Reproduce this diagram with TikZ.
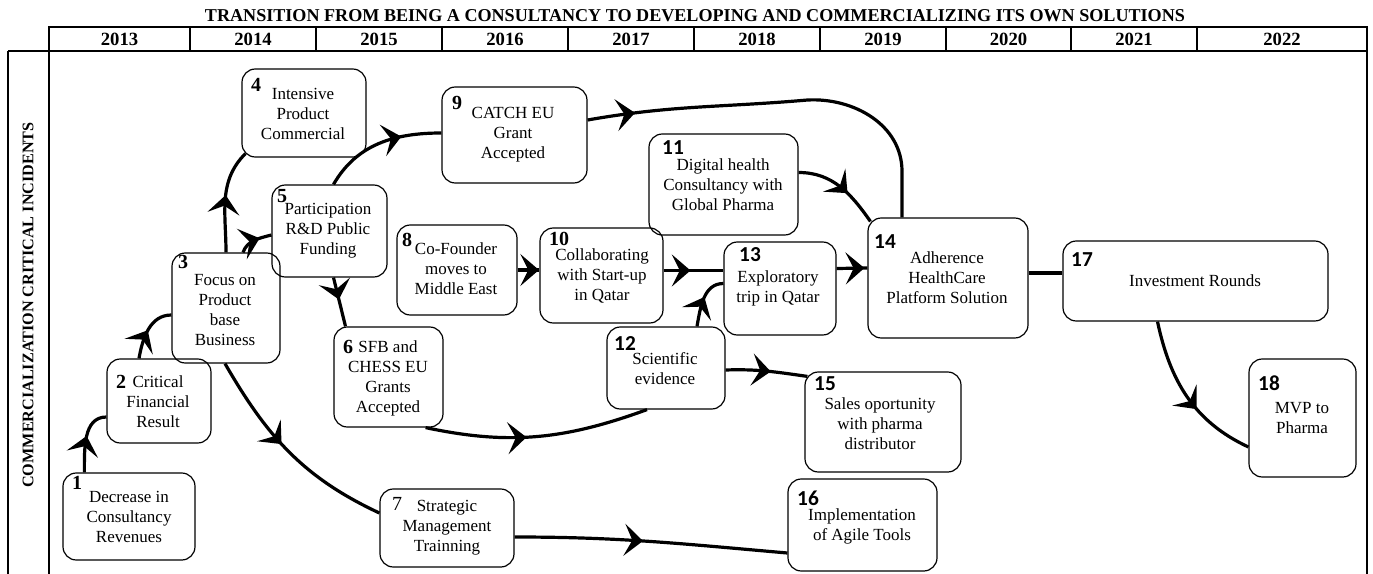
\documentclass[tikz,border=0pt]{standalone}
\usepackage{fontspec}
\setmainfont{Liberation Serif}
\newfontfamily\numsans{Carlito}
\usetikzlibrary{arrows.meta,decorations.markings,calc}
\newcommand\mkbox[5]{%
  \pgfmathsetmacro\mybw{(#4-#2)*0.75}%
  \pgfmathsetmacro\mybh{(#5-#3)*0.75}%
  \node[ibox, minimum width=\mybw pt, minimum height=\mybh pt] (#1) at ({(#2+#4)/2},{-(#3+#5)/2}) {};}
\begin{document}
\begin{tikzpicture}[x=0.75pt,y=0.75pt,
  ibox/.style={draw, rounded corners=10pt, line width=0.9pt, inner sep=0pt},
  txt/.style={align=center, font=\fontsize{12.75}{15}\selectfont, inner sep=0pt},
  nums/.style={font=\fontsize{15}{15}\selectfont\bfseries, inner sep=0pt},
  numr/.style={font=\fontsize{15}{15}\selectfont, inner sep=0pt},
  numc/.style={font=\fontsize{16}{16}\selectfont\numsans\bfseries, inner sep=0pt},
  link/.style={line width=2.4pt},
  chev/.style={postaction={decorate,decoration={markings,mark=at position #1 with {\arrow{Stealth[length=14pt,width=24pt,inset=6pt]}}}}},
  grid/.style={line width=0.9pt},
  year/.style={font=\fontsize{14}{14}\selectfont\bfseries, inner sep=0pt}
]
\useasboundingbox (0,0) rectangle (1373,-574);
% table
\draw[grid] (49,-27) rectangle (1367,-51);
\foreach \cx in {190,316,442,568,694,820,946,1071,1197}{\draw[grid] (\cx,-27) -- (\cx,-51);}
\draw[grid] (8,-51) -- (1367,-51);
\draw[grid] (8,-51) -- (8,-574);
\draw[grid] (49,-51) -- (49,-574);
\draw[grid] (1367,-51) -- (1367,-574);
\node[inner sep=0pt] (title) at (695,-16) {\resizebox{735pt}{!}{\bfseries TRANSITION FROM BEING A CONSULTANCY TO DEVELOPING AND COMMERCIALIZING ITS OWN SOLUTIONS}};
\node[rotate=90, inner sep=0pt] (side) at (28,-305) {\resizebox{274pt}{!}{\bfseries COMMERCIALIZATION CRITICAL INCIDENTS}};
\foreach \yr/\cx in {2013/119.5,2014/253,2015/379,2016/505,2017/631,2018/757,2019/883,2020/1008.5,2021/1134,2022/1282}{\node[year] (y\yr) at (\cx,-39) {\yr};}
% boxes
\mkbox{n1}{63}{473}{195}{560}
\mkbox{n2}{107}{359}{211}{443}
\mkbox{n3}{172}{253}{280}{363}
\mkbox{n4}{242}{69}{366}{157}
\mkbox{n5}{272}{185}{387}{277}
\mkbox{n6}{334}{327}{443}{427}
\mkbox{n7}{380}{489}{514}{567}
\mkbox{n8}{397}{225}{517}{315}
\mkbox{n9}{442}{87}{587}{183}
\mkbox{n10}{540}{228}{663}{323}
\mkbox{n11}{649}{134}{798}{235}
\mkbox{n12}{607}{327}{725}{409}
\mkbox{n13}{724}{242}{836}{335}
\mkbox{n14}{868}{218}{1028}{338}
\mkbox{n15}{805}{372}{961}{472}
\mkbox{n16}{788}{479}{937}{571}
\mkbox{n17}{1063}{241}{1328}{321}
\mkbox{n18}{1249}{359}{1356}{477}
% numbers
\node[nums] (k1) at (77,-483) {1};
\node[nums] (k2) at (121,-382) {2};
\node[nums] (k3) at (183,-262) {3};
\node[nums] (k4) at (256,-85) {4};
\node[nums] (k5) at (282,-196) {5};
\node[nums] (k6) at (348,-347) {6};
\node[numr] (k7) at (397,-504) {7};
\node[nums] (k8) at (407,-240) {8};
\node[nums] (k9) at (457,-103) {9};
\node[nums] (k10) at (559,-239) {10};
\node[numc] (k11) at (673,-148) {11};
\node[numc] (k12) at (625,-344) {12};
\node[numc] (k13) at (750,-255) {13};
\node[numc] (k14) at (885,-242) {14};
\node[numc] (k15) at (825,-384) {15};
\node[numc] (k16) at (808,-498) {16};
\node[numc] (k17) at (1082,-260) {17};
\node[numc] (k18) at (1269,-383) {18};
% texts
\node[txt] (t1) at (129,-517) {Decrease in\\Consultancy\\Revenues};
\node[txt] (t2) at (158,-402) {Critical\\Financial\\Result};
\node[txt] (t3) at (225,-310.5) {Focus on\\Product\\base\\Business};
\node[txt] (t4) at (303,-114) {Intensive\\Product\\Commercial};
\node[txt] (t5) at (328,-231) {Participation\\R\&D Public\\Funding};
\node[txt] (t6) at (388,-378) {SFB and\\CHESS EU\\Grants\\Accepted};
\node[txt] (t7) at (447,-528) {Strategic\\Management\\Trainning};
\node[txt] (t8) at (456,-269) {Co-Founder\\moves to\\Middle East};
\node[txt] (t9) at (513,-135) {CATCH EU\\Grant\\Accepted};
\node[txt] (t10) at (602,-276) {Collaborating\\with Start-up\\in Qatar};
\node[txt] (t11) at (723,-185) {Digital health\\Consultancy with\\Global Pharma};
\node[txt] (t12) at (665,-369) {Scientific\\evidence};
\node[txt] (t13) at (778,-288) {Exploratory\\trip in Qatar};
\node[txt] (t14) at (947,-278) {Adherence\\HealthCare\\Platform Solution};
\node[txt] (t15) at (880,-424) {Sales oportunity\\with pharma\\distributor};
\node[txt] (t16) at (862,-526) {Implementation\\of Agile Tools};
\node[txt] (t17) at (1195,-281) {Investment Rounds};
\node[txt] (t18) at (1302,-418) {MVP to\\Pharma};
% connectors
\draw[link, chev=0.55] ($(n1.north west)+(22,0)$) to[out=90,in=180] ($(n2.west)+(0,-16)$);
\draw[link, chev=0.5] ($(n2.north)+(-20,0)$) to[out=80,in=180] ($(n3.west)+(0,-7)$);
\draw[link, chev=0.55] (n3.north) to[out=90,in=225] ($(n4.south west)+(4,4)$);
\draw[link, chev=0.65] ($(n3.north)+(17,0)$) to[out=70,in=195] ($(n5.west)+(0,-4)$);
\draw[link, chev=0.45] ($(n5.south)+(4,0)$) -- ($(n6.north)+(-43,0)$);
\draw[link, chev=0.68] ($(n5.north)+(4,0)$) to[out=60,in=180] ($(n9.west)+(0,2)$);
\draw[link, chev=0.45] ($(n3.south)+(-1,0)$) to[out=-60,in=155] ($(n7.west)+(0,15)$);
\draw[link, chev=0.45] ($(n6.south east)+(-18,0)$) to[out=-12,in=200] ($(n12.south)+(-19,0)$);
\draw[link, chev=0.98] (n8.east) -- (n8.east -| n10.west);
\draw[link, chev=0.45] ($(n10.east)+(0,5)$) -- ($(n13.west)+(0,18)$);
\draw[link, chev=0.55] ($(n12.north)+(31,0)$) to[out=80,in=180] ($(n13.west)+(0,5)$);
\draw[link, chev=0.9] ($(n13.east)+(0,20)$) -- ($(n14.west)+(0,10)$);
\draw[link, chev=0.6] ($(n11.east)+(0,12)$) to[out=0,in=125] ($(n14.north west)+(3,-4)$);
\draw[link, chev=0.12] ($(n9.east)+(0,15)$) to[out=10,in=185] ($(n9.east)+(220,35)$) to[out=3,in=90] ($(n14.north)+(-46,46)$) -- ($(n14.north)+(-46,0)$);
\draw[link, chev=0.55] ($(n12.east)+(0,-2)$) to[out=2,in=172] ($(n15.north west)+(3,-5)$);
\draw[link, chev=0.47] ($(n7.east)+(0,-9)$) to[out=0,in=175] ($(n16.west)+(0,-28)$);
\draw[link] ($(n14.east)+(0,5)$) -- ($(n17.west)+(0,8)$);
\draw[link, chev=0.6] ($(n17.south)+(-38,0)$) to[out=-78,in=155] ($(n18.west)+(0,-29)$);
\end{tikzpicture}
\end{document}
